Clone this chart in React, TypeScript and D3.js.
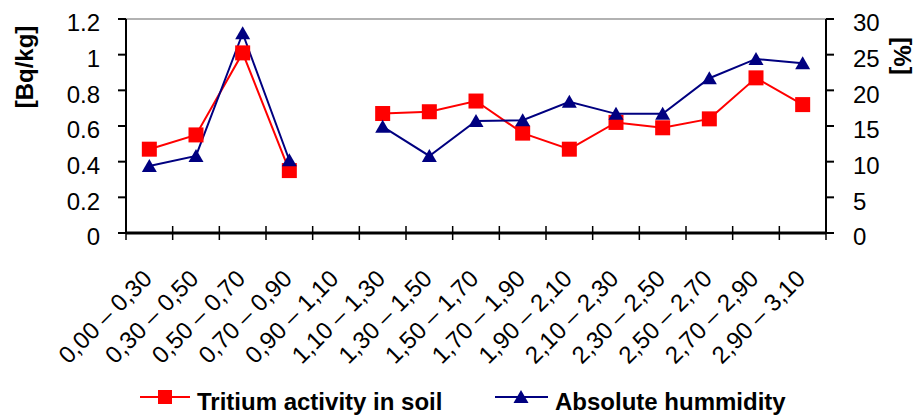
import React from 'react';
import * as d3 from 'd3';

const categories = [
  '0,00 – 0,30', '0,30 – 0,50', '0,50 – 0,70', '0,70 – 0,90', '0,90 – 1,10',
  '1,10 – 1,30', '1,30 – 1,50', '1,50 – 1,70', '1,70 – 1,90', '1,90 – 2,10',
  '2,10 – 2,30', '2,30 – 2,50', '2,50 – 2,70', '2,70 – 2,90', '2,90 – 3,10',
];

// Bq/kg (left axis)
const tritium: (number | null)[] = [0.47, 0.55, 1.01, 0.35, null, 0.67, 0.68, 0.74, 0.56, 0.47, 0.62, 0.59, 0.64, 0.87, 0.72];
// % (right axis)
const humidity: (number | null)[] = [9.4, 10.8, 28.0, 10.2, null, 14.9, 10.8, 15.7, 15.8, 18.4, 16.7, 16.7, 21.7, 24.4, 23.8];

const leftTicks = [0, 0.2, 0.4, 0.6, 0.8, 1, 1.2];
const rightTicks = [0, 5, 10, 15, 20, 25, 30];

const W = 919;
const H = 416;
const margin = { left: 126, right: 93, top: 19, bottom: 183 };
const font = 'Arial, "Liberation Sans", sans-serif';

export default function App() {
  const x0 = margin.left;
  const x1 = W - margin.right;
  const y0 = H - margin.bottom;
  const y1 = margin.top;

  const xBand = d3.scaleBand<number>().domain(d3.range(categories.length)).range([x0, x1]);
  const xc = (i: number) => (xBand(i) as number) + xBand.bandwidth() / 2;
  const yL = d3.scaleLinear().domain([0, 1.2]).range([y0, y1]);
  const yR = d3.scaleLinear().domain([0, 30]).range([y0, y1]);

  const line = (scale: d3.ScaleLinear<number, number>) =>
    d3.line<number | null>()
      .defined(d => d !== null)
      .x((_, i) => xc(i))
      .y(d => scale(d as number));

  const red = '#ff0000';
  const blue = '#000080';
  const tri = (cx: number, cy: number) => `M${cx},${cy - 7}L${cx + 7.5},${cy + 6}L${cx - 7.5},${cy + 6}Z`;

  return (
    <svg width={W} height={H} style={{ position: 'absolute', left: 0, top: 0, fontFamily: font }}>
      <rect width={W} height={H} fill="#fff" />
      {/* top gridline */}
      <line x1={x0} x2={x1} y1={y1} y2={y1} stroke="#999" strokeWidth={1.5} />

      {/* left axis */}
      <line x1={x0} x2={x0} y1={y1} y2={y0} stroke="#000" strokeWidth={2} />
      {leftTicks.map(t => (
        <g key={'l' + t}>
          <line x1={x0 - 8} x2={x0} y1={yL(t)} y2={yL(t)} stroke="#000" strokeWidth={2} />
          <text x={x0 - 26} y={yL(t)} dy="0.52em" textAnchor="end" fontSize={24}>{t}</text>
        </g>
      ))}
      <text transform={`translate(33,67) rotate(-90)`} textAnchor="middle" fontSize={24} fontWeight="bold">[Bq/kg]</text>

      {/* right axis */}
      <line x1={x1} x2={x1} y1={y1} y2={y0} stroke="#000" strokeWidth={2} />
      {rightTicks.map(t => (
        <g key={'r' + t}>
          <line x1={x1} x2={x1 + 8} y1={yR(t)} y2={yR(t)} stroke="#000" strokeWidth={2} />
          <text x={x1 + 27} y={yR(t)} dy="0.52em" textAnchor="start" fontSize={24}>{t}</text>
        </g>
      ))}
      <text transform={`translate(894,56) rotate(90)`} textAnchor="middle" fontSize={24} fontWeight="bold">[%]</text>

      {/* x axis */}
      <line x1={x0} x2={x1} y1={y0} y2={y0} stroke="#000" strokeWidth={3} />
      {d3.range(categories.length + 1).map(i => {
        const xx = x0 + i * xBand.step();
        return <line key={'xt' + i} x1={xx} x2={xx} y1={y0 - 7} y2={y0 + 7} stroke="#000" strokeWidth={1.5} />;
      })}
      {categories.map((c, i) => (
        <text key={c} transform={`translate(${xc(i) + 4},${y0 + 47}) rotate(-45)`} textAnchor="end" fontSize={24}>{c}</text>
      ))}

      {/* series */}
      <path d={line(yL)(tritium) || ''} fill="none" stroke={red} strokeWidth={2} />
      <path d={line(yR)(humidity) || ''} fill="none" stroke={blue} strokeWidth={2} />
      {tritium.map((v, i) => v === null ? null : (
        <rect key={'s' + i} x={xc(i) - 7.5} y={yL(v) - 7.5} width={15} height={15} fill={red} />
      ))}
      {humidity.map((v, i) => v === null ? null : (
        <path key={'t' + i} d={tri(xc(i), yR(v))} fill={blue} />
      ))}

      {/* legend */}
      <line x1={140} x2={190} y1={397} y2={397} stroke={red} strokeWidth={2} />
      <rect x={158} y={390} width={14} height={14} fill={red} />
      <text x={197} y={410} fontSize={24} fontWeight="bold">Tritium activity in soil</text>
      <line x1={495} x2={548} y1={397} y2={397} stroke={blue} strokeWidth={2} />
      <path d={tri(521, 397)} fill={blue} />
      <text x={555} y={410} fontSize={24} fontWeight="bold">Absolute hummidity</text>
    </svg>
  );
}
